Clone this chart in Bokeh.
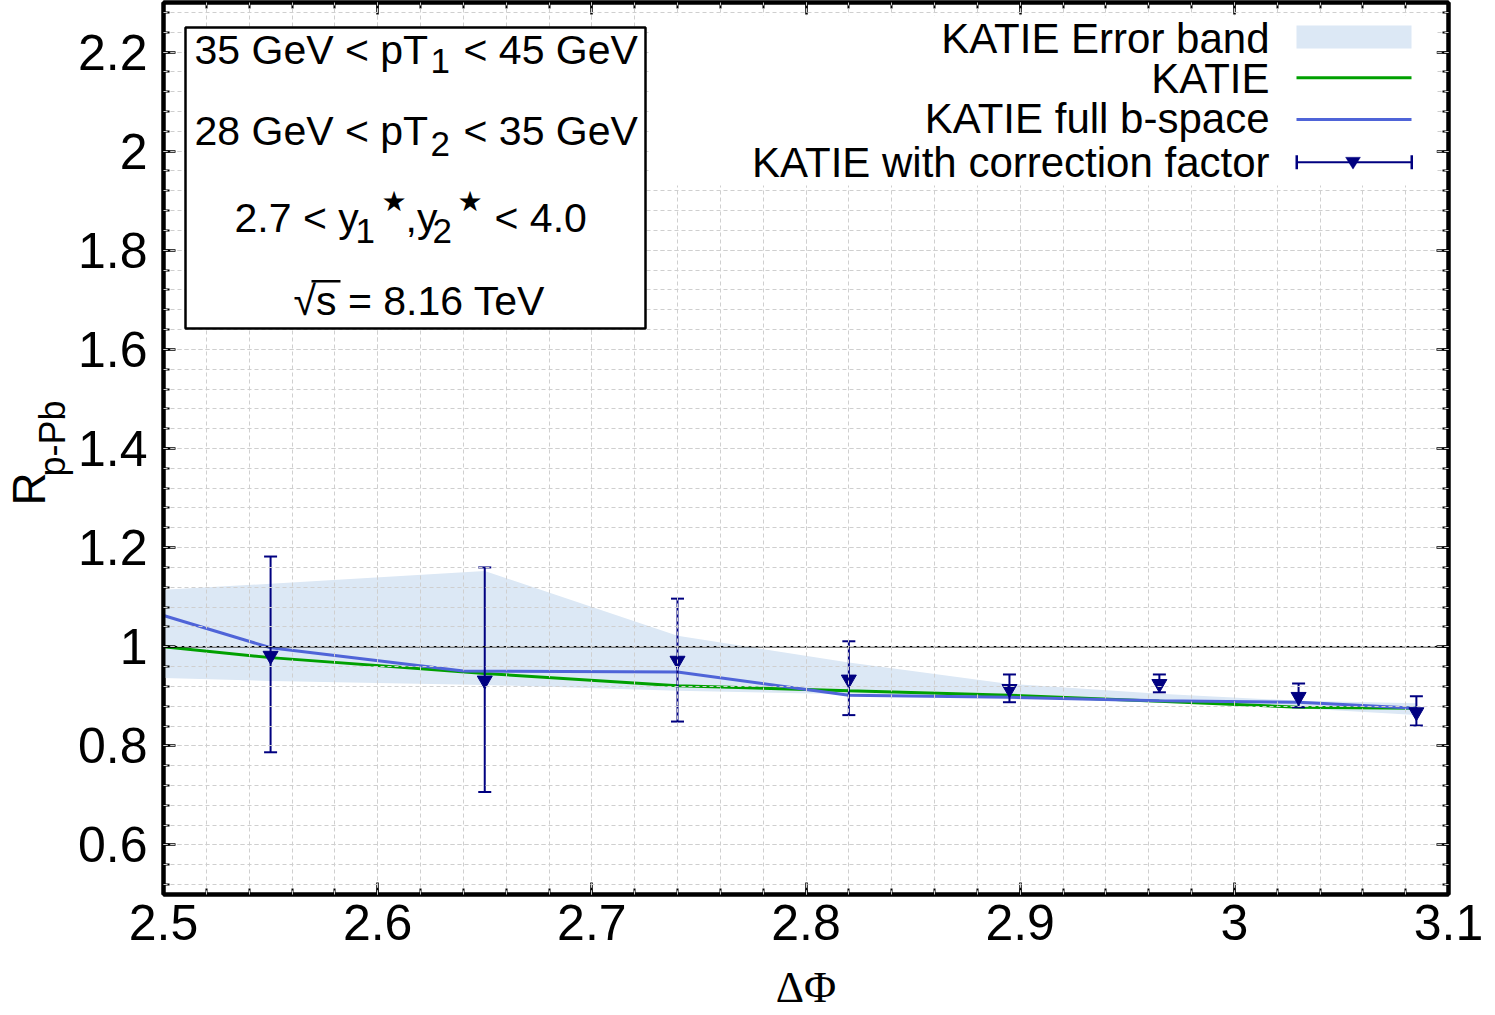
from bokeh.plotting import figure
from bokeh.models import (SingleIntervalTicker, LinearAxis, CustomJSTickFormatter,
                          BoxAnnotation, PolyAnnotation, Label, Span, Title)
from bokeh.embed import file_html
from bokeh.resources import INLINE

# ---------------- data ----------------
x_limits = (2.5, 3.1)
y_limits = (0.5, 2.3)

band_x = [2.5, 2.55, 2.65, 2.74, 2.82, 2.895, 2.965, 3.03, 3.085]
band_upper = [1.115, 1.127, 1.153, 1.022, 0.968, 0.925, 0.905, 0.891, 0.886]
band_lower = [0.937, 0.931, 0.923, 0.911, 0.904, 0.897, 0.887, 0.876, 0.862]

katie_x = [2.5, 2.55, 2.65, 2.74, 2.82, 2.895, 2.965, 3.03, 3.085]
katie_y = [1.000, 0.978, 0.946, 0.921, 0.911, 0.902, 0.890, 0.878, 0.876]

full_x = [2.5, 2.55, 2.64, 2.74, 2.82, 2.895, 2.965, 3.03, 3.085]
full_y = [1.063, 0.998, 0.951, 0.949, 0.902, 0.898, 0.891, 0.888, 0.876]

corr_x = [2.55, 2.65, 2.74, 2.82, 2.895, 2.965, 3.03, 3.085]
corr_y = [0.982, 0.932, 0.972, 0.934, 0.915, 0.925, 0.899, 0.868]
corr_hi = [1.182, 1.160, 1.097, 1.011, 0.944, 0.944, 0.926, 0.900]
corr_lo = [0.787, 0.707, 0.849, 0.862, 0.888, 0.908, 0.878, 0.841]

ref_level = [1.0]

legend_labels = ["KATIE Error band", "KATIE", "KATIE full b-space",
                 "KATIE with correction factor"]
cut_lines = ["35 GeV < pT", "28 GeV < pT"]

C_BAND = "#dce8f5"
C_GREEN = "#00a000"
C_BLUE = "#4f64d8"
C_NAVY = "#000080"
C_GRID = "#cfcfcf"
FONT = "Liberation Sans"

# ---------------- figure ----------------
p = figure(width=1495, height=1015, x_range=x_limits, y_range=y_limits,
           output_backend="svg", toolbar_location=None,
           min_border_left=163, min_border_right=47, min_border_top=2,
           min_border_bottom=121)
p.background_fill_color = "white"
p.border_fill_color = "white"
p.outline_line_color = "black"
p.outline_line_width = 4

xt = SingleIntervalTicker(interval=0.1, num_minor_ticks=5)
yt = SingleIntervalTicker(interval=0.2, num_minor_ticks=5)
fmt = CustomJSTickFormatter(code="""
    if (Math.abs(tick - Math.round(tick)) < 1e-9) { return tick.toFixed(0); }
    return tick.toFixed(1);
""")

def style_axis(ax, labels=True):
    ax.axis_line_color = "black"
    ax.axis_line_width = 4
    ax.major_tick_in = 12
    ax.major_tick_out = 0
    ax.minor_tick_in = 6
    ax.minor_tick_out = 0
    ax.major_tick_line_width = 2.5
    ax.minor_tick_line_width = 2
    ax.major_tick_line_color = "black"
    ax.minor_tick_line_color = "black"
    if labels:
        ax.major_label_text_font = FONT
        ax.major_label_text_font_size = "50px"
        ax.major_label_text_color = "black"
    else:
        ax.major_label_text_font_size = "1px"
        ax.major_label_text_alpha = 0
        ax.major_label_standoff = 0

p.xaxis.ticker = xt
p.yaxis.ticker = yt
p.xaxis.formatter = fmt
p.yaxis.formatter = fmt
style_axis(p.xaxis[0])
style_axis(p.yaxis[0])
p.xaxis.major_label_standoff = 10
p.yaxis.major_label_standoff = 16

p.xaxis.axis_label = "\u0394\u03a6"
p.xaxis.axis_label_text_font = "Liberation Serif"
p.xaxis.axis_label_text_font_size = "44px"
p.xaxis.axis_label_text_font_style = "normal"
p.xaxis.axis_label_text_color = "black"
p.xaxis.axis_label_standoff = 20

ax_r = LinearAxis(ticker=yt)
style_axis(ax_r, labels=False)
p.add_layout(ax_r, "right")
ax_t = LinearAxis(ticker=xt)
style_axis(ax_t, labels=False)
p.add_layout(ax_t, "above")

# y-axis title: R with subscript p-Pb
t_sub = Title(text="p-Pb", align="left", offset=418, vertical_align="bottom",
              standoff=4, text_font=FONT, text_font_size="36px",
              text_font_style="normal", text_color="black")
p.add_layout(t_sub, "left")
t_R = Title(text="R", align="left", offset=389, vertical_align="bottom",
            standoff=-54, text_font=FONT, text_font_size="46px",
            text_font_style="normal", text_color="black")
p.add_layout(t_R, "left")

for g in (p.xgrid[0], p.ygrid[0]):
    g.grid_line_color = C_GRID
    g.grid_line_dash = "4 3"
    g.grid_line_width = 1
    g.minor_grid_line_color = C_GRID
    g.minor_grid_line_dash = "4 3"
    g.minor_grid_line_width = 1
    g.level = "guide"
p.xgrid.ticker = xt
p.ygrid.ticker = yt

# ---------------- data marks ----------------
p.varea(x=band_x, y1=band_lower, y2=band_upper, fill_color=C_BAND)
p.line(katie_x, katie_y, line_color=C_GREEN, line_width=3)
p.line(full_x, full_y, line_color=C_BLUE, line_width=3)
p.add_layout(Span(location=ref_level[0], dimension="width", line_color="black",
                  line_width=1.6, level="glyph"))
p.segment(x0=corr_x, y0=corr_lo, x1=corr_x, y1=corr_hi, line_color=C_NAVY, line_width=2)
p.scatter(corr_x, corr_hi, marker="dash", size=13, line_color=C_NAVY, line_width=2)
p.scatter(corr_x, corr_lo, marker="dash", size=13, line_color=C_NAVY, line_width=2)
p.scatter(corr_x, corr_y, marker="inverted_triangle", size=15,
          fill_color=C_NAVY, line_color=C_NAVY)

# ---------------- annotations (page px -> frame screen) ----------------
FL, FB = 163, 894

def sx(px):
    return px - FL

def sy(py):
    return FB - py

def box(x0, x1, y0, y1, fill, line=None, lw=0):
    p.add_layout(BoxAnnotation(left=sx(x0), right=sx(x1), top=sy(y0), bottom=sy(y1),
                               left_units="screen", right_units="screen",
                               top_units="screen", bottom_units="screen",
                               fill_color=fill, fill_alpha=1,
                               line_color=line, line_width=lw, line_alpha=1 if line else 0))

def lab(px, py, text, size, align="left", font=FONT):
    p.add_layout(Label(x=sx(px), y=sy(py), x_units="screen", y_units="screen",
                       text=text, text_font=font, text_font_size=f"{size}px",
                       text_align=align, text_baseline="middle",
                       text_color="black"))

# opaque legend background and cut box
box(648, 1436, 15, 185, "white")
box(185, 645, 27, 328, "white", "black", 2.5)

# cut texts
lab(194, 49, cut_lines[0], 41)
lab(430, 60, "1", 35)
lab(463, 49, "< 45 GeV", 41)
lab(194, 130, cut_lines[1], 41)
lab(430, 143.5, "2", 35)
lab(463, 130, "< 35 GeV", 41)

lab(234, 217.5, "2.7 < y", 41)
lab(355, 230, "1", 35)
lab(381, 201, "\u2605", 28, font="DejaVu Sans")
lab(405, 217.5, ",y", 41)
lab(432, 230, "2", 35)
lab(457, 201, "\u2605", 28, font="DejaVu Sans")
lab(494, 217.5, "< 4.0", 41)

lab(293, 300, "\u221as = 8.16 TeV", 41)
box(311, 340, 279.5, 282, "black")

# legend
leg_y = [37.5, 77.5, 117.5, 161.5]
for t, yy in zip(legend_labels, leg_y):
    lab(1269, yy, t, 42, align="right")
box(1296, 1411, 25, 48, C_BAND)
box(1296, 1411, 75.8, 78.8, C_GREEN)
box(1296, 1411, 117.5, 120.5, C_BLUE)
box(1296, 1411, 160.7, 162.7, C_NAVY)
box(1295, 1297.5, 154.7, 168.7, C_NAVY)
box(1410, 1412.5, 154.7, 168.7, C_NAVY)
cx, cy = 1352.5, 161.7
p.add_layout(PolyAnnotation(xs=[sx(cx - 7.5), sx(cx + 7.5), sx(cx)],
                            ys=[sy(cy - 5), sy(cy - 5), sy(cy + 7)],
                            xs_units="screen", ys_units="screen",
                            fill_color=C_NAVY, fill_alpha=1, line_color=C_NAVY))

open("out.html", "w").write(file_html(p, INLINE))
